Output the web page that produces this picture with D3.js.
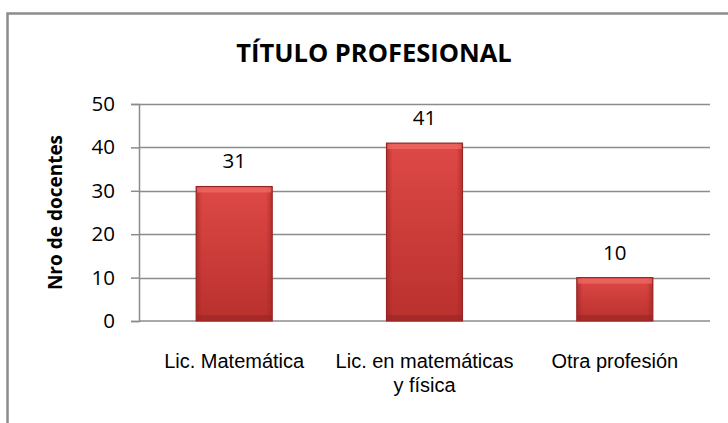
<!DOCTYPE html>
<html>
<head>
<meta charset="utf-8">
<script src="https://cdn.jsdelivr.net/npm/d3@7"></script>
<style>
  body { margin: 0; background: #fff; }
  svg { display: block; font-family: "Open Sans", Lato, sans-serif; }
</style>
</head>
<body>
<div id="container"></div>
<script>
// chart data
const categories = ["Lic. Matemática", "Lic. en matemáticas y física", "Otra profesión"];
const categoryLines = [["Lic. Matemática"], ["Lic. en matemáticas", "y física"], ["Otra profesión"]];
const values = [31, 41, 10];
const yTicks = [0, 10, 20, 30, 40, 50];

const WIDTH = 728;
const HEIGHT = 423;
const margin = { left: 139, right: 18, top: 104, bottom: 102 };
const FONT = "'Open Sans', Lato, sans-serif";

const svg = d3.select("#container")
    .append("svg")
    .attr("width", WIDTH)
    .attr("height", HEIGHT);

// outer frame (top + left only visible)
svg.append("path")
    .attr("d", "M7.5," + HEIGHT + "V13.5H" + WIDTH)
    .attr("fill", "none")
    .attr("stroke", "#8c8c8c")
    .attr("stroke-width", 2.5);

// gradients for bars
const defs = svg.append("defs");
const grad = defs.append("linearGradient")
    .attr("id", "barGrad").attr("x1", 0).attr("y1", 0).attr("x2", 0).attr("y2", 1);
grad.append("stop").attr("offset", "0%").attr("stop-color", "#de4946");
grad.append("stop").attr("offset", "100%").attr("stop-color", "#b9302d");
const gradH = defs.append("linearGradient")
    .attr("id", "barEdge").attr("x1", 0).attr("y1", 0).attr("x2", 1).attr("y2", 0);
gradH.append("stop").attr("offset", "0%").attr("stop-color", "#9e2220").attr("stop-opacity", 0.6);
gradH.append("stop").attr("offset", "8%").attr("stop-color", "#9e2220").attr("stop-opacity", 0);
gradH.append("stop").attr("offset", "92%").attr("stop-color", "#9e2220").attr("stop-opacity", 0);
gradH.append("stop").attr("offset", "100%").attr("stop-color", "#9e2220").attr("stop-opacity", 0.6);

const x = d3.scaleBand()
    .domain(categories)
    .range([margin.left, WIDTH - margin.right])
    .paddingInner(0.6)
    .paddingOuter(0.3);

const y = d3.scaleLinear()
    .domain([0, 50])
    .range([HEIGHT - margin.bottom, margin.top]);

// gridlines
svg.append("g")
    .selectAll("line")
    .data(yTicks.filter(d => d > 0))
    .enter()
    .append("line")
    .attr("x1", margin.left)
    .attr("x2", WIDTH - margin.right)
    .attr("y1", d => Math.round(y(d)) + 0.5)
    .attr("y2", d => Math.round(y(d)) + 0.5)
    .attr("stroke", "#8c8c8c")
    .attr("stroke-width", 1.5);

// y axis
const leftAxis = d3.axisLeft(y)
    .tickValues(yTicks)
    .tickSize(8)
    .tickPadding(16)
    .tickFormat(d3.format("d"));

const gy = svg.append("g")
    .attr("transform", "translate(" + margin.left + ",0)")
    .call(leftAxis);
gy.select(".domain").attr("stroke", "#8c8c8c").attr("stroke-width", 1.5);
gy.selectAll(".tick line").attr("stroke", "#8c8c8c").attr("stroke-width", 1.5);
gy.selectAll(".tick text")
    .attr("font-size", 20.5)
    .attr("font-family", FONT)
    .attr("fill", "#000");

// x axis baseline
svg.append("line")
    .attr("x1", margin.left)
    .attr("x2", WIDTH - margin.right)
    .attr("y1", y(0))
    .attr("y2", y(0))
    .attr("stroke", "#8c8c8c")
    .attr("stroke-width", 1.5);

// bars
const bars = svg.append("g")
    .selectAll("g")
    .data(values)
    .enter()
    .append("g");

bars.append("rect")
    .attr("x", (d, i) => x(categories[i]))
    .attr("y", d => y(d))
    .attr("width", x.bandwidth())
    .attr("height", d => y(0) - y(d))
    .attr("fill", "url(#barGrad)")
    .attr("stroke", "#8e1f1d")
    .attr("stroke-width", 1);

bars.append("rect")
    .attr("x", (d, i) => x(categories[i]))
    .attr("y", d => y(d))
    .attr("width", x.bandwidth())
    .attr("height", d => y(0) - y(d))
    .attr("fill", "url(#barEdge)");

// top bevel highlight
bars.append("rect")
    .attr("x", (d, i) => x(categories[i]) + 1)
    .attr("y", d => y(d) + 1)
    .attr("width", x.bandwidth() - 2)
    .attr("height", 5)
    .attr("fill", "#f06c68")
    .attr("opacity", 0.7);

// bottom bevel shade
bars.append("rect")
    .attr("x", (d, i) => x(categories[i]) + 1)
    .attr("y", d => y(0) - 6)
    .attr("width", x.bandwidth() - 2)
    .attr("height", 5)
    .attr("fill", "#8e2422")
    .attr("opacity", 0.45);

// value labels
bars.append("text")
    .attr("x", (d, i) => x(categories[i]) + x.bandwidth() / 2)
    .attr("y", d => y(d) - 18)
    .attr("text-anchor", "middle")
    .attr("font-size", 20.5)
    .attr("fill", "#000")
    .text(d => d);

// category labels, one text per line
categoryLines.forEach((lines, i) => {
    svg.append("g")
        .selectAll("text")
        .data(lines)
        .enter()
        .append("text")
        .attr("x", x(categories[i]) + x.bandwidth() / 2)
        .attr("y", (d, j) => 368 + j * 23.5)
        .attr("text-anchor", "middle")
        .attr("font-family", "'Liberation Sans', Arial, sans-serif")
        .attr("font-size", 20)
        .attr("fill", "#000")
        .text(d => d);
});

// title
svg.append("text")
    .attr("x", 374)
    .attr("y", 62)
    .attr("text-anchor", "middle")
    .attr("font-size", 25.5)
    .attr("font-weight", "bold")
    .attr("fill", "#000")
    .text("TÍTULO PROFESIONAL");

// y axis label
svg.append("text")
    .attr("transform", "translate(62," + ((y(0) + y(50)) / 2) + ") rotate(-90)")
    .attr("text-anchor", "middle")
    .attr("font-size", 19)
    .attr("font-weight", "bold")
    .attr("fill", "#000")
    .text("Nro de docentes");
</script>
</body>
</html>
